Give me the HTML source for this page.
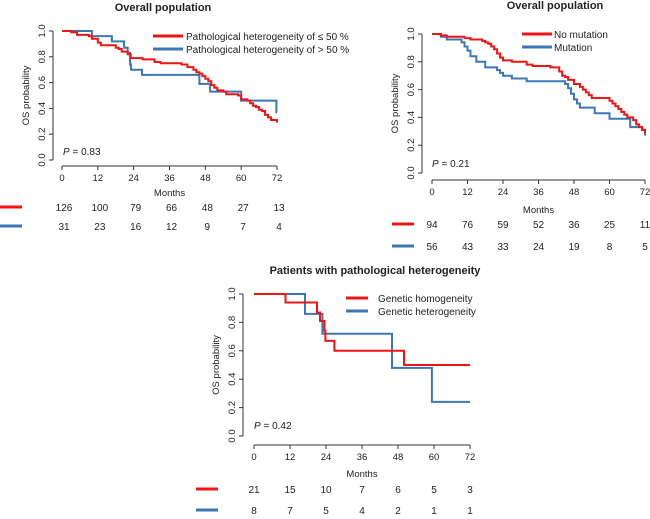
<!DOCTYPE html>
<html><head><meta charset="utf-8"><style>
body{margin:0;background:#fff;}
svg text{font-family:"Liberation Sans",Arial,sans-serif;fill:#222;}
</style></head><body>
<svg id="c" width="650" height="514" viewBox="0 0 650 514" xmlns="http://www.w3.org/2000/svg"></svg>
<script>
const timeTicks=[0,12,24,36,48,60,72];
const survTicks=[0,0.2,0.4,0.6,0.8,1.0];
const p1Titles=["Overall population"];
const p1Legend=["Pathological heterogeneity of \u2264 50 %","Pathological heterogeneity of > 50 %"];
const p1RedT=[0,3,5,9,10,12,13,18,19,20,22,23,27,31,33,40,42,44,45,46,47,48,49,50,51,52,54,55,59,60,62,63,64,65,66,67,68,69,70,72];
const p1RedS=[1,0.99,0.97,0.96,0.94,0.91,0.89,0.87,0.86,0.84,0.82,0.79,0.78,0.76,0.75,0.74,0.72,0.70,0.68,0.67,0.65,0.63,0.61,0.58,0.56,0.54,0.53,0.51,0.50,0.47,0.46,0.44,0.42,0.41,0.39,0.38,0.35,0.33,0.31,0.29];
const p1BlueT=[0,10,16.7,20.8,22,22.8,23.1,26.8,46,49.6,60,71.8];
const p1BlueS=[1,0.96,0.92,0.87,0.83,0.74,0.70,0.66,0.59,0.53,0.46,0.37];
const p1RiskRed=[126,100,79,66,48,27,13];
const p1RiskBlue=[31,23,16,12,9,7,4];
const p2Legend=["No mutation","Mutation"];
const p2RedT=[0,3,5,11,13,17,18,19,20,21,22,23,24,27,32,34,40,43,44,45,46,48,50,51,52,53,54,60,61,62,63,64,65,66,68,69,70,71,72];
const p2RedS=[1,0.99,0.98,0.97,0.96,0.95,0.94,0.93,0.91,0.89,0.86,0.83,0.81,0.80,0.78,0.77,0.76,0.73,0.70,0.69,0.67,0.64,0.62,0.60,0.58,0.56,0.54,0.52,0.50,0.48,0.46,0.44,0.42,0.40,0.38,0.35,0.33,0.31,0.29];
const p2BlueT=[0,3,5,10,11,12,13,15,18,22,23,24,27,32,45,46,47,48,49,50,55,60,67,71,72];
const p2BlueS=[1,0.98,0.96,0.94,0.91,0.88,0.84,0.80,0.76,0.74,0.72,0.70,0.68,0.66,0.64,0.61,0.57,0.53,0.50,0.47,0.43,0.39,0.33,0.31,0.27];
const p2RiskRed=[94,76,59,52,36,25,11];
const p2RiskBlue=[56,43,33,24,19,8,5];
const p3Legend=["Genetic homogeneity","Genetic heterogeneity"];
const p3RedT=[0,10.5,21,22,23.5,23.8,26.8,50];
const p3RedS=[1,0.94,0.87,0.81,0.74,0.67,0.60,0.50];
const p3BlueT=[0,17,22.8,46,59.3];
const p3BlueS=[1,0.86,0.72,0.48,0.24];
const p3RiskRed=[21,15,10,7,6,5,3];
const p3RiskBlue=[8,7,5,4,2,1,1];

const NS="http://www.w3.org/2000/svg";
const svg=document.getElementById('c');
function el(tag,attrs,parent,text){const e=document.createElementNS(NS,tag);for(const k in attrs)e.setAttribute(k,attrs[k]);if(text!==undefined)e.textContent=text;(parent||svg).appendChild(e);return e;}
const RED="#f01414",BLUE="#3a78b5";

function panel(id,cfg){
  const g=el('g',{},svg);
  
  
  const xs=t=>cfg.x0+(cfg.x1-cfg.x0)*t/72;
  const ys=s=>cfg.y0-(cfg.y0-cfg.y1)*s;
  const title=el('text',{x:cfg.tx,y:cfg.ty,'text-anchor':'middle','font-size':11,'font-weight':'bold'},g,cfg.title);
  
  
  // y axis
  const ya=el('g',{},g);
  
  
  el('line',{x1:cfg.ax,x2:cfg.ax,y1:ys(0),y2:ys(1),stroke:'#333','stroke-width':1},ya);
  survTicks.forEach(v=>{
    el('line',{x1:cfg.ax-4,x2:cfg.ax,y1:ys(v),y2:ys(v),stroke:'#333'},ya);
    const t=el('text',{x:0,y:0,'text-anchor':'middle','font-size':9.5,transform:`translate(${cfg.ax-8},${ys(v)}) rotate(-90)`},ya,v.toFixed(1));
    
    
  });
  const yt=el('text',{x:0,y:0,'text-anchor':'middle','font-size':9.5,transform:`translate(${cfg.ax-24},${(ys(0)+ys(1))/2}) rotate(-90)`},g,'OS probability');
  
  
  // x axis
  const xa=el('g',{},g);
  
  
  el('line',{x1:xs(0),x2:xs(72),y1:cfg.ay,y2:cfg.ay,stroke:'#333'},xa);
  timeTicks.forEach(v=>{
    el('line',{x1:xs(v),x2:xs(v),y1:cfg.ay,y2:cfg.ay+4,stroke:'#333'},xa);
    const t=el('text',{x:xs(v),y:cfg.ay+15,'text-anchor':'middle','font-size':9.5},xa,String(v));
    
    
  });
  const xt=el('text',{x:xs(36),y:cfg.my,'text-anchor':'middle','font-size':9.5},g,'Months');
  
  
  // curves
  function step(T,S,color,name){
    let d=`M${xs(T[0])},${ys(S[0])}`;
    for(let i=1;i<T.length;i++){d+=` H${xs(T[i])} V${ys(S[i])}`;}
    if(T[T.length-1]<72)d+=` H${xs(72)}`;
    const p=el('path',{d:d,fill:'none',stroke:color,'stroke-width':2},g);
    
    
  }
  step(cfg.bt,cfg.bs,BLUE,'curve-blue');
  step(cfg.rt,cfg.rs,RED,'curve-red');
  // p value
  const pv=el('text',{x:cfg.px,y:cfg.py,'font-size':10},g);
  
  
  el('tspan',{'font-style':'italic'},pv,'P');
  el('tspan',{},pv,' = '+cfg.p);
  // legend
  [[RED,cfg.leg[0]],[BLUE,cfg.leg[1]]].forEach((L,i)=>{
    const lg=el('g',{},g);
    
    
    el('line',{x1:cfg.lx,x2:cfg.lx+cfg.lw,y1:cfg.ly+i*13,y2:cfg.ly+i*13,stroke:L[0],'stroke-width':3},lg);
    el('text',{x:cfg.ltx,y:cfg.ly+i*13+4,'font-size':10},lg,L[1]);
  });
  // risk table
  [[RED,cfg.rr,cfg.r1],[BLUE,cfg.rb,cfg.r2]].forEach((R)=>{
    const rg=el('g',{},g);
    
    
    el('line',{x1:cfg.rlx,x2:cfg.rlx+cfg.rlw,y1:R[2],y2:R[2],stroke:R[0],'stroke-width':3},rg);
    R[1].forEach((n,i)=>{el('text',{x:xs(timeTicks[i])+cfg.roff,y:R[2]+4,'text-anchor':'middle','font-size':10},rg,String(n));});
  });
}
panel('panel-pathological',{title:'Overall population',tx:163,ty:11,x0:62,x1:277,y0:160,y1:31,ax:53,ay:166,my:196,
  rt:p1RedT,rs:p1RedS,bt:p1BlueT,bs:p1BlueS,p:'0.83',px:63,py:155,leg:p1Legend,lx:153,lw:30,ltx:186,ly:36,
  rr:p1RiskRed,rb:p1RiskBlue,r1:207,r2:226,rlx:0,rlw:22,roff:2});
panel('panel-mutation',{title:'Overall population',tx:555,ty:9,x0:432,x1:645,y0:173,y1:34,ax:422,ay:180,my:213,
  rt:p2RedT,rs:p2RedS,bt:p2BlueT,bs:p2BlueS,p:'0.21',px:432,py:167,leg:p2Legend,lx:522,lw:30,ltx:554,ly:34,
  rr:p2RiskRed,rb:p2RiskBlue,r1:224,r2:246,rlx:392,rlw:22,roff:0});
panel('panel-heterogeneity',{title:'Patients with pathological heterogeneity',tx:375,ty:274,x0:254,x1:470,y0:436,y1:294,ax:243,ay:445,my:477,
  rt:p3RedT,rs:p3RedS,bt:p3BlueT,bs:p3BlueS,p:'0.42',px:254,py:429,leg:p3Legend,lx:346,lw:22,ltx:378,ly:298,
  rr:p3RiskRed,rb:p3RiskBlue,r1:489,r2:510,rlx:196,rlw:22,roff:0});
</script>
</body></html>
